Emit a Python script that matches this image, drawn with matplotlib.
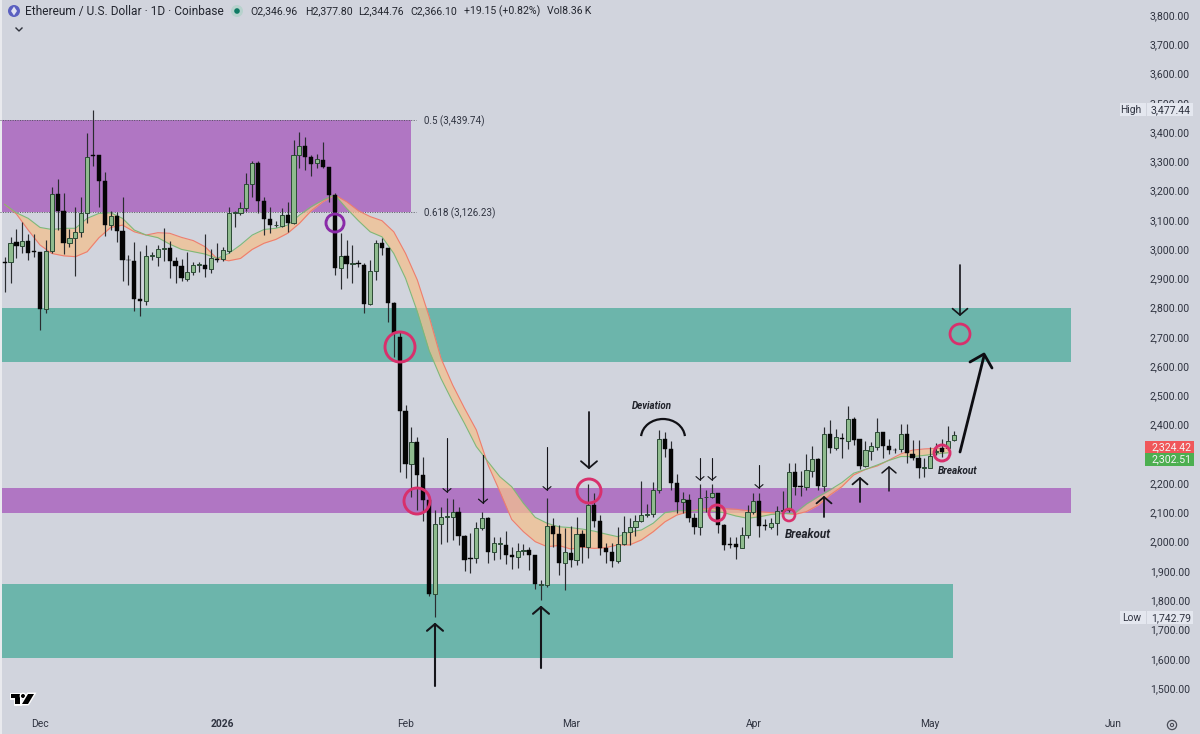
import matplotlib
matplotlib.use('Agg')
import matplotlib.pyplot as plt
from matplotlib.patches import Circle, Polygon, Rectangle, Arc
from matplotlib.transforms import Affine2D
import matplotlib.patheffects as pe

plt.rcParams['font.family'] = ['Roboto', 'DejaVu Sans']

# daily candles, first one is 25 Nov 2025
first_day = -6
opens = [2955,2956,3023,3012,3029,2992,2989,2796,2992,3187,
         3131,3020,3037,3057,3122,3322,3322,3234,3082,3113,
         3061,2963,2959,2829,2824,2976,2974,3000,3005,2959,
         2942,2898,2923,2945,2946,2932,2967,2965,2995,3125,
         3122,3142,3222,3293,3164,3102,3081,3079,3115,3088,
         3322,3352,3314,3293,3304,3279,3185,2934,2977,2949,
         2952,2947,2812,2924,3020,3004,2815,2701,2447,2265,
         2342,2228,2142,1820,2059,2085,2085,2100,2021,1943,
         1945,2046,2082,1964,1992,1987,1953,1947,1968,1970,
         1954,1853,1852,2055,2025,1926,1962,1937,2025,1981,
         2125,2071,1977,1966,1934,1991,2034,2050,2072,2092,
         2093,2177,2350,2316,2202,2134,2142,2082,2051,2151,
         2154,2165,2057,1992,1991,1980,2023,2100,2138,2056,
         2051,2063,2105,2108,2238,2189,2188,2243,2284,2190,
         2368,2321,2354,2345,2418,2350,2260,2311,2325,2374,
         2327,2314,2317,2367,2300,2287,2251,2253,2308,2319,
         2321,2347]
highs = [2974,3042,3067,3094,3052,3052,2989,3031,3211,3238,
         3190,3067,3145,3177,3396,3475,3322,3262,3131,3128,
         3177,2980,3025,2993,3014,2991,3014,3071,3029,2974,
         2965,2991,2957,2957,3050,2999,3022,3008,3145,3131,
         3162,3261,3302,3302,3177,3143,3097,3139,3162,3373,
         3401,3382,3322,3325,3365,3279,3193,3056,3031,3014,
         2963,2953,2963,3031,3037,3004,2820,2718,2467,2393,
         2357,2291,2145,2108,2120,2148,2145,2120,2023,2028,
         2068,2103,2084,2017,2017,2038,1983,1994,1991,1983,
         1956,1869,2148,2082,2057,2046,2054,2085,2040,2197,
         2165,2091,1994,1994,2051,2088,2082,2091,2208,2129,
         2205,2382,2376,2345,2230,2171,2162,2097,2197,2177,
         2197,2168,2059,2017,2017,2051,2125,2165,2165,2076,
         2080,2122,2174,2270,2268,2243,2300,2327,2286,2393,
         2416,2384,2373,2464,2425,2352,2345,2342,2422,2376,
         2350,2321,2402,2401,2347,2347,2285,2325,2338,2350,
         2397,2378]
lows = [2854,2885,2968,2985,2963,2974,2723,2783,2985,3065,
        2983,3008,2909,3040,3090,3284,3145,3045,3065,3023,
        2892,2877,2790,2772,2809,2963,2942,2960,2900,2885,
        2892,2892,2911,2923,2906,2917,2957,2960,2985,3074,
        3116,3131,3179,3122,3048,3054,3074,3077,3059,3086,
        3276,3270,3250,3276,3276,3162,2911,2864,2900,2885,
        2940,2783,2809,2894,2980,2750,2632,2239,2216,2154,
        2108,2072,1814,1741,1992,2000,2006,1989,1901,1894,
        1926,2040,1926,1937,1940,1924,1905,1909,1954,1903,
        1837,1801,1846,1983,1886,1835,1915,1920,1926,1943,
        2051,1954,1926,1912,1928,1989,1989,2020,2068,2085,
        2083,2165,2291,2177,2099,2097,2068,2026,2023,2103,
        2148,2031,1972,1977,1940,1977,2011,2095,2017,2040,
        2042,2023,2083,2103,2160,2156,2177,2222,2177,2174,
        2304,2313,2285,2316,2330,2247,2256,2279,2313,2285,
        2300,2302,2306,2268,2279,2216,2222,2251,2296,2291,
        2313,2345]
closes = [2952,3022,3012,3029,2985,2990,2796,2992,3187,3131,
          3020,3037,3057,3122,3316,3318,3234,3082,3113,3061,
          2963,2961,2829,2824,2975,2978,2999,3004,2960,2942,
          2900,2923,2946,2947,2932,2968,2964,2997,3122,3128,
          3139,3222,3293,3164,3102,3082,3083,3115,3090,3322,
          3352,3314,3291,3307,3279,3185,2934,2977,2948,2951,
          2950,2812,2924,3020,3004,2815,2714,2448,2265,2342,
          2228,2142,1820,2059,2083,2087,2100,2021,1937,1941,
          2046,2082,1964,1994,1994,1953,1948,1967,1970,1954,
          1855,1855,2055,2025,1926,1964,1937,2025,1981,2125,
          2071,1977,1966,1934,1991,2034,2050,2072,2090,2094,
          2177,2350,2317,2202,2137,2145,2082,2051,2149,2153,
          2165,2057,1989,1990,1982,2023,2100,2138,2055,2054,
          2063,2106,2107,2238,2188,2187,2245,2284,2190,2368,
          2319,2359,2352,2418,2347,2259,2312,2327,2374,2327,
          2313,2312,2367,2302,2287,2251,2253,2293,2310,2308,
          2344,2366]

# the two averages, read every second day
ma_days = list(range(-6, 156, 2))
ma_red = [3153,3120,3065,3014,2985,2977,2974,2991,3039,3074,3082,3059,3048,3056,3054,3040,
          3029,3008,2968,2960,2968,2999,3020,3033,3054,3088,3131,3162,3185,3162,3131,3111,
          3097,3059,2985,2894,2769,2627,2535,2456,2382,2262,2171,2076,2034,2000,1983,1987,
          1975,1981,1977,1980,1989,1989,2006,2034,2068,2091,2103,2111,2114,2113,2111,2106,
          2103,2099,2097,2093,2103,2125,2160,2188,2228,2247,2259,2279,2300,2313,2317,2319,2319]
ma_green = [3153,3124,3105,3074,3067,3071,3071,3105,3122,3124,3105,3065,3048,3039,3017,2999,
            2991,2983,2968,2985,3014,3048,3067,3071,3082,3116,3145,3168,3185,3139,3097,3059,
            3042,2985,2900,2786,2653,2558,2478,2404,2325,2273,2222,2188,2131,2083,2063,2051,
            2048,2043,2036,2026,2017,2033,2040,2063,2099,2106,2106,2106,2105,2099,2088,2080,
            2085,2093,2096,2097,2129,2154,2177,2202,2234,2247,2262,2278,2291,2291,2295,2300,2304]

price_ticks = list(range(1500, 3900, 100))
month_days = [0, 31, 62, 90, 121, 151, 182]
month_labels = ['Dec', '2026', 'Feb', 'Mar', 'Apr', 'May', 'Jun']

BG = '#d1d4dd'
PURPLE = '#b076c3'
TEAL = '#6cb5ab'
PINK = '#d8306c'
TXT = '#2f3340'

fig = plt.figure(figsize=(12, 7.34), dpi=100, facecolor=BG)
ax = fig.add_axes([0, 0, 1, 1], facecolor=BG)
# 5.896 px per day, 29.26 px per 100 usd
ax.set_xlim(-40 / 5.896, 1160 / 5.896)
ax.set_ylim(3800 - 719 / 0.2926, 3800 + 15 / 0.2926)
for s in ax.spines.values():
    s.set_visible(False)

ax.yaxis.tick_right()
ax.set_yticks(price_ticks)
# 2,300 sits behind the two price tags, so it never shows
ax.set_yticklabels(['' if p == 2300 else f'{p:,.2f}' for p in price_ticks], fontsize=7.6, color=TXT)
ax.tick_params(axis='y', length=0, pad=-36)
ax.set_xticks(month_days)
ax.set_xticklabels(month_labels, fontsize=7.4, color=TXT)
ax.tick_params(axis='x', length=0, pad=-11)
ax.get_xticklabels()[1].set_fontweight('bold')

# pixel coordinates for everything drawn by hand on the chart
px = Affine2D().scale(1, -1).translate(0, 734)

# zones
def zone(x0, x1, top, bottom, color):
    ax.axhspan(bottom, top, xmin=x0 / 1200, xmax=x1 / 1200, color=color, lw=0, zorder=1)

zone(2, 411, 3439.74, 3126.23, PURPLE)
zone(2, 1071, 2799, 2614, TEAL)
zone(2, 1071, 2183, 2098, PURPLE)
zone(2, 953, 1855, 1602, TEAL)
ax.add_patch(Rectangle((0, 0), 2, 734, transform=px, color='#e9eaee', lw=0, zorder=1))

for level in (3439.74, 3126.23):
    ax.axhline(level, xmin=0, xmax=416 / 1200, color='#555560', lw=0.7, ls=(0, (1, 1.5)), zorder=2)
ax.text(424, 121, '0.5 (3,439.74)', transform=px, fontsize=7, color=TXT, va='center')
ax.text(424, 213, '0.618 (3,126.23)', transform=px, fontsize=7, color=TXT, va='center')

# ma ribbon
ax.fill_between(ma_days, ma_red, ma_green, color='#f3c08f', alpha=0.75, lw=0, zorder=2)
ax.plot(ma_days, ma_red, color='#ee7d6e', lw=0.8, zorder=2.2)
ax.plot(ma_days, ma_green, color='#7fb878', lw=0.8, zorder=2.2)

# candles
for i in range(len(opens)):
    d = first_day + i
    up = closes[i] >= opens[i]
    ax.vlines(d, lows[i], highs[i], color='#2a2c30', lw=0.85, zorder=3)
    bottom = min(opens[i], closes[i])
    height = max(abs(closes[i] - opens[i]), 3)
    if up:
        ax.bar(d, height, bottom=bottom, width=0.7, color='#8fbb8e', edgecolor='#2b4a35', lw=0.7, zorder=3.2)
    else:
        ax.bar(d, height, bottom=bottom, width=0.72, color='#050505', edgecolor='#050505', lw=0.3, zorder=3.2)

# hand drawn arrows: x, tail y, tip y, line width, head half size
arrows = [(435, 686, 624, 1.5, 8), (541, 668, 607, 1.5, 8),
          (447, 438, 492, 0.8, 4), (483, 455, 503, 0.9, 4.5), (547, 447, 490, 0.8, 4),
          (589, 412, 468, 1.3, 8), (700, 458, 480, 0.8, 4), (712, 458, 480, 0.8, 4),
          (759, 465, 488, 0.8, 4), (824, 517, 497, 1.3, 7.5), (860, 502, 478, 1.3, 7.5),
          (889, 491, 467, 1.1, 7), (960, 265, 315, 1.2, 7.5)]
for x, y0, y1, lw, h in arrows:
    sign = 1 if y1 > y0 else -1
    ax.plot([x, x], [y0, y1], transform=px, color='#15151a', lw=lw, zorder=5, solid_capstyle='round')
    ax.plot([x - h, x, x + h], [y1 - sign * h * 0.85, y1, y1 - sign * h * 0.85], transform=px,
            color='#15151a', lw=lw, zorder=5, solid_capstyle='round')

# long sloping arrow to the upper zone
ax.plot([960, 984], [452, 356], transform=px, color='#0d0d12', lw=2, zorder=5, solid_capstyle='round')
ax.plot([970, 984, 992], [362, 354, 368], transform=px, color='#0d0d12', lw=2, zorder=5, solid_capstyle='round')

# circles: x, y, radius, width
circles = [(400, 347, 15, 2.1), (417, 501, 13, 2.1), (589, 491, 12, 2.1), (717, 513, 8, 2.1),
           (789, 515, 6, 1.9), (942, 453, 8, 2.1), (960, 334, 10, 2)]
for x, y, r, lw in circles:
    ax.add_patch(Circle((x, y), r, transform=px, fill=False, edgecolor=PINK, lw=lw, zorder=6))
ax.add_patch(Circle((335, 223, ), 9, transform=px, fill=False, edgecolor='#8a2ba8', lw=2.1, zorder=6))

# deviation arc, y runs downwards here so the top of it is 180-360
ax.add_patch(Arc((663, 438), 44, 38, theta1=185, theta2=355, transform=px, color='#101015', lw=1.6, zorder=5))
ax.text(652, 406, 'Deviation', transform=px, fontsize=7, fontweight='bold', fontstyle='italic',
        color='#20222a', ha='center', va='center')
ax.text(808, 534, 'Breakout', transform=px, fontsize=8.4, fontweight='bold', fontstyle='italic',
        color='#20222a', ha='center', va='center')
ax.text(958, 471, 'Breakout', transform=px, fontsize=7.2, fontweight='bold', fontstyle='italic',
        color='#20222a', ha='center', va='center')

# right side price tags
def tag(x0, x1, y0, y1, color):
    ax.add_patch(Rectangle((x0, y0), x1 - x0, y1 - y0, transform=px, color=color, lw=0, zorder=7))

tag(1120, 1146, 103, 116, '#e4e7ef')
tag(1147, 1193, 103, 116, '#e4e7ef')
ax.text(1131, 110, 'High', transform=px, fontsize=7.4, color=TXT, ha='center', va='center', zorder=8)
ax.text(1151, 110, '3,477.44', transform=px, fontsize=7.6, color=TXT, va='center', zorder=8)
tag(1120, 1146, 611, 624, '#e4e7ef')
tag(1147, 1193, 611, 624, '#e4e7ef')
ax.text(1132, 618, 'Low', transform=px, fontsize=7.4, color=TXT, ha='center', va='center', zorder=8)
ax.text(1151, 618, '1,742.79', transform=px, fontsize=7.6, color=TXT, va='center', zorder=8)
tag(1145, 1194, 441, 453, '#f0575a')
tag(1145, 1194, 453, 466, '#4caf50')
ax.text(1151, 447, '2,324.42', transform=px, fontsize=7.6, color='#f4f4f4', va='center', zorder=8)
ax.text(1151, 459, '2,302.51', transform=px, fontsize=7.6, color='#f4f4f4', va='center', zorder=8)

# header
ax.add_patch(Circle((14, 11), 6, transform=px, color='#5a5fc0', lw=0, zorder=7))
ax.add_patch(Polygon([(14, 6.5), (17, 11), (14, 15.5), (11, 11)], closed=True, transform=px,
                     color='#dfe1f2', lw=0, zorder=8))
ax.text(25, 11, 'Ethereum / U.S. Dollar \u00b7 1D \u00b7 Coinbase', transform=px, fontsize=8.6,
        color='#23262f', va='center', zorder=8)
ax.add_patch(Circle((237, 11), 6, transform=px, color='#b7d2cd', lw=0, zorder=7))
ax.add_patch(Circle((237, 11), 2.8, transform=px, color='#0f7a64', lw=0, zorder=8))
header_vals = [(250, 'O2,346.96'), (305, 'H2,377.80'), (358, 'L2,344.76'), (410, 'C2,366.10'),
               (464, '+19.15 (+0.82%)'), (547, 'Vol8.36\u2009K')]
for x, label in header_vals:
    ax.text(x, 11, label, transform=px, fontsize=7.6, color='#23262f', va='center', zorder=8)
ax.plot([16, 19, 22], [28, 31, 28], transform=px, color='#30333c', lw=1, zorder=8)

# tradingview logo
white = [pe.withStroke(linewidth=2, foreground='white')]
bar = Polygon([(11, 694), (20, 694), (20, 704), (15, 704), (15, 698), (11, 698)], closed=True,
              transform=px, color='black', lw=0, zorder=8, path_effects=white)
ax.add_patch(bar)
ax.add_patch(Circle((23, 696), 2, transform=px, color='black', lw=0, zorder=8, path_effects=white))
ax.add_patch(Polygon([(28, 694), (34, 694), (28, 704), (22, 704)], closed=True, transform=px,
                     color='black', lw=0, zorder=8, path_effects=white))

# settings gear
ax.add_patch(Circle((1172, 725), 4.6, transform=px, fill=False, edgecolor='#4a4d58', lw=0.9, zorder=8))
ax.add_patch(Circle((1172, 725), 1.6, transform=px, fill=False, edgecolor='#4a4d58', lw=0.8, zorder=8))

fig.savefig('out.png', dpi=100, facecolor=BG)
